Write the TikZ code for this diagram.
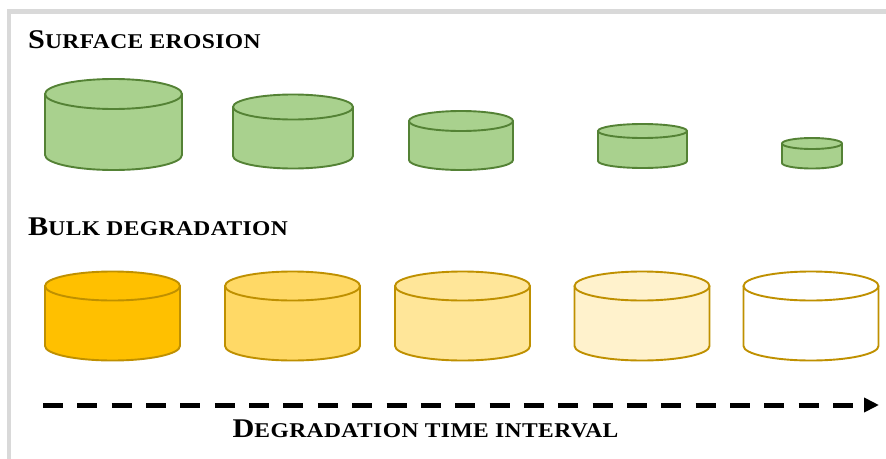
\documentclass[tikz,border=0pt]{standalone}
\usepackage{fontspec}
\setmainfont{Liberation Serif}
\newfontfamily\capfont[FakeStretch=1.12,LetterSpace=2]{Liberation Serif}
\usepackage{xcolor}
\usepackage{tikz}
\usetikzlibrary{arrows.meta,positioning}
\definecolor{leaf}{HTML}{A9D18E}
\definecolor{leafedge}{HTML}{548235}
\definecolor{goldedge}{HTML}{BF9000}
\definecolor{ylwa}{HTML}{FFC000}
\definecolor{ylwb}{HTML}{FFD966}
\definecolor{ylwc}{HTML}{FFE699}
\definecolor{ylwd}{HTML}{FFF2CC}
\definecolor{ylwe}{HTML}{FFFFFF}
\definecolor{framegray}{HTML}{D9D9D9}
\newcommand{\smcap}[2]{{\capfont\bfseries\fontsize{27}{30}\selectfont #1}{\capfont\bfseries\fontsize{21}{24}\selectfont #2}}

\begin{document}
\begin{tikzpicture}[x=1pt,y=1pt]
\tikzset{leafcyl/.style={draw=leafedge,line width=1.9pt,fill=leaf,line join=round},
  goldcyl/.style={draw=goldedge,line width=1.9pt,line join=round},
  title/.style={anchor=base west,inner sep=0pt},
  timeline/.style={line width=5pt,dash pattern=on 20pt off 14.35pt,-{Triangle[length=15pt,width=14pt]}}}
\useasboundingbox (0,0) rectangle (886,-458);
\draw[framegray,line width=4.5pt] (9,-470) -- (9,-11.5) -- (900,-11.5);
% titles
\node[title] (se) at (28,-48.5) {\smcap{S}{URFACE EROSION}};
\node[title] (bd) at (28,-235) {\smcap{B}{ULK DEGRADATION}};
% surface erosion: shrinking cylinders
\foreach \cx/\rx/\ry/\yt/\yb in {113.5/68.5/15/94/155, 293/60/12.5/107/156, 461/52/10/121/160, 642.5/44.5/7/131/161, 812/30/5.5/143.5/163}
{
\draw[leafcyl] (\cx-\rx,-\yt) -- (\cx-\rx,-\yb) arc[start angle=180,end angle=360,x radius=\rx,y radius=\ry] -- (\cx+\rx,-\yt) -- cycle;
\draw[leafcyl] (\cx,-\yt) ellipse[x radius=\rx,y radius=\ry];
}
% bulk degradation: fading cylinders
\foreach \cx/\tone in {112.5/ylwa, 292.5/ylwb, 462.5/ylwc, 642/ylwd, 811/ylwe}
{
\draw[goldcyl,fill=\tone] (\cx-67.5,-286) -- (\cx-67.5,-346) arc[start angle=180,end angle=360,x radius=67.5,y radius=14.5] -- (\cx+67.5,-286) -- cycle;
\draw[goldcyl,fill=\tone] (\cx,-286) ellipse[x radius=67.5,y radius=14.5];
}
% time axis
\coordinate (t0) at (43,-405);
\coordinate (t1) at (879,-405);
\draw[timeline] (t0) -- (t1);
\node[anchor=base,inner sep=0pt] (ti) at (425.5,-437) {\smcap{D}{EGRADATION TIME INTERVAL}};
\end{tikzpicture}
\end{document}
